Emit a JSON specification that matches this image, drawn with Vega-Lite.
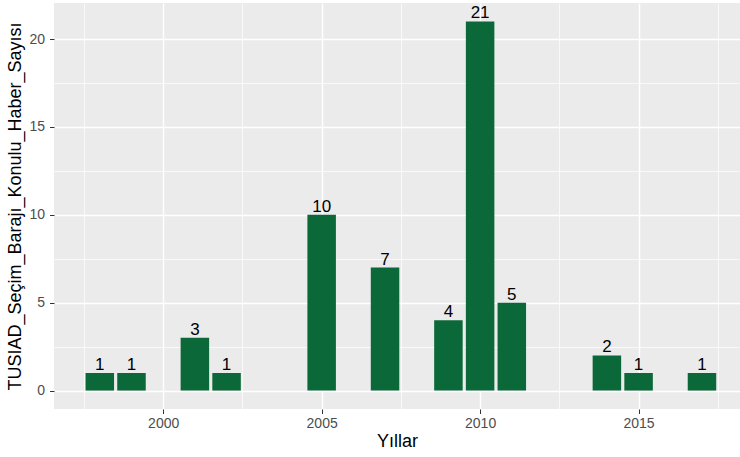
{
  "$schema": "https://vega.github.io/schema/vega-lite/v6.json",
  "autosize": {"type": "none"},
  "padding": {"left": 54, "top": 3, "right": 0, "bottom": 48},
  "width": 686,
  "height": 406,
  "background": "white",
  "config": {
    "view": {"fill": "#EBEBEB", "stroke": null},
    "font": "Liberation Sans",
    "axis": {
      "domain": false,
      "gridColor": "white",
      "tickColor": "#333333",
      "tickSize": 4.5,
      "tickWidth": 1,
      "labelColor": "#4D4D4D",
      "labelFontSize": 14,
      "titleColor": "black",
      "titleFontSize": 18,
      "titleFontWeight": "normal"
    }
  },
  "data": {
    "values": [
      {"Yil": 1998, "Sayi": 1},
      {"Yil": 1999, "Sayi": 1},
      {"Yil": 2001, "Sayi": 3},
      {"Yil": 2002, "Sayi": 1},
      {"Yil": 2005, "Sayi": 10},
      {"Yil": 2007, "Sayi": 7},
      {"Yil": 2009, "Sayi": 4},
      {"Yil": 2010, "Sayi": 21},
      {"Yil": 2011, "Sayi": 5},
      {"Yil": 2014, "Sayi": 2},
      {"Yil": 2015, "Sayi": 1},
      {"Yil": 2017, "Sayi": 1}
    ]
  },
  "encoding": {
    "x": {
      "field": "Yil",
      "type": "quantitative",
      "scale": {"domain": [1996.555, 2018.2], "nice": false, "zero": false, "padding": 0},
      "axis": {
        "title": "Yıllar",
        "values": [1997.5, 2000, 2002.5, 2005, 2007.5, 2010, 2012.5, 2015, 2017.5],
        "labelExpr": "datum.value % 5 === 0 ? datum.value : ''",
        "tickOpacity": {"condition": {"test": "datum.value % 5 === 0", "value": 1}, "value": 0},
        "gridWidth": {"condition": {"test": "datum.value % 5 === 0", "value": 1.4}, "value": 0.7},
        "labelPadding": 3,
        "titlePadding": 2,
        "labelFlush": false
      }
    },
    "y": {
      "field": "Sayi",
      "type": "quantitative",
      "scale": {"domain": [-1.05, 22.05], "nice": false, "zero": false, "padding": 0},
      "axis": {
        "title": "TUSIAD_Seçim_Barajı_Konulu_Haber_Sayısı",
        "values": [0, 2.5, 5, 7.5, 10, 12.5, 15, 17.5, 20],
        "labelExpr": "datum.value % 5 === 0 ? datum.value : ''",
        "tickOpacity": {"condition": {"test": "datum.value % 5 === 0", "value": 1}, "value": 0},
        "gridWidth": {"condition": {"test": "datum.value % 5 === 0", "value": 1.4}, "value": 0.7},
        "labelPadding": 5,
        "titlePadding": 4,
        "labelFlush": false
      }
    }
  },
  "layer": [
    {
      "mark": {"type": "bar", "color": "#0B6838", "size": 28.5},
      "encoding": {"y2": {"datum": 0}}
    },
    {
      "mark": {"type": "text", "fontSize": 17, "color": "black", "baseline": "alphabetic", "dy": -3},
      "encoding": {"text": {"field": "Sayi", "type": "quantitative"}}
    }
  ]
}
